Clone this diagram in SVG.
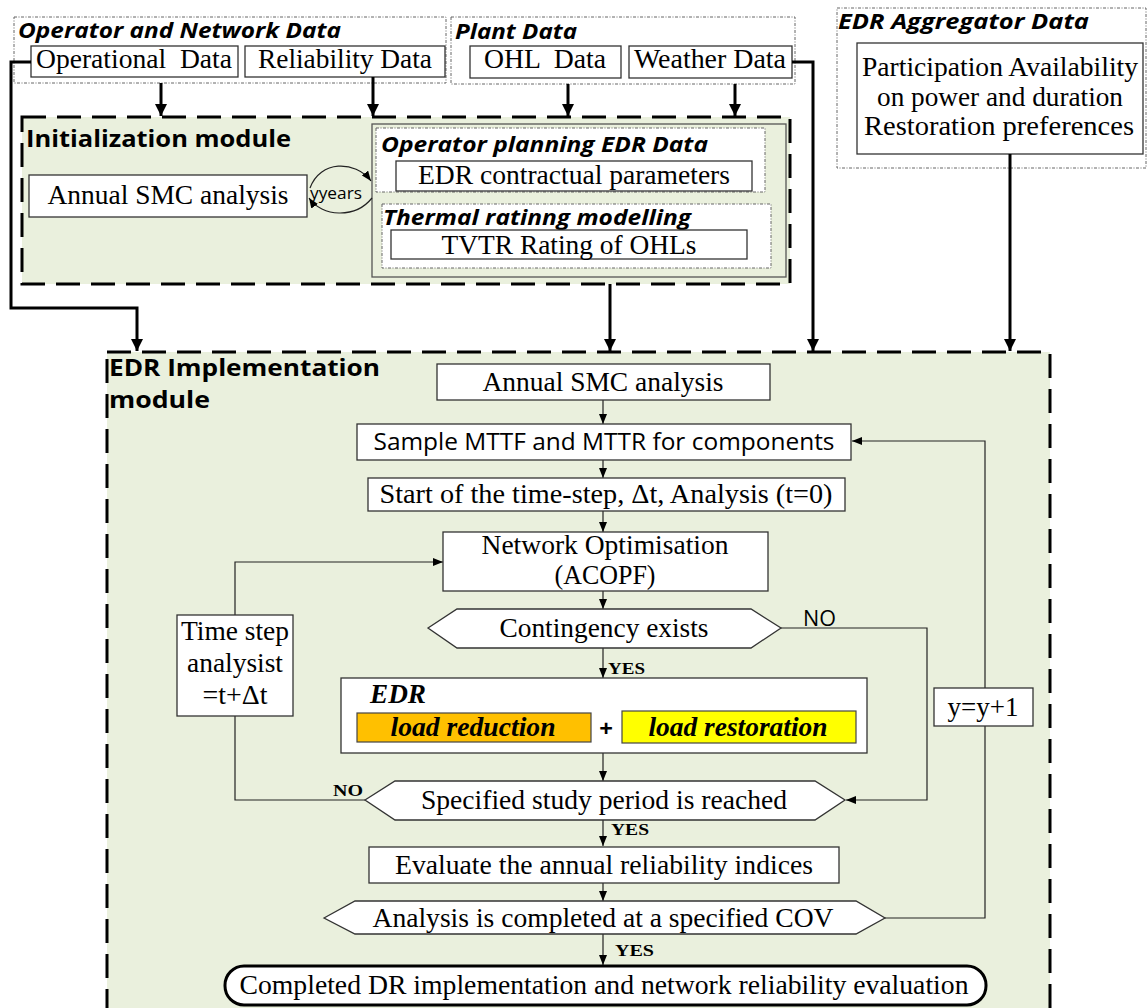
<svg xmlns="http://www.w3.org/2000/svg" width="1147" height="1008" viewBox="0 0 1147 1008">
  <style>
    .grp{fill:#fff;stroke:#666;stroke-width:1;stroke-dasharray:3 1.5 1 1.5}
    .mod{fill:#EAF0DD;stroke:#000;stroke-width:3;stroke-dasharray:24 11}
    .box{fill:#fff;stroke:#333;stroke-width:1.3}
    .ser{font-family:"Liberation Serif","Times New Roman",serif;font-size:27px;fill:#000}
    .title{font-family:"Open Sans","Liberation Sans",sans-serif;font-weight:bold;font-style:italic;font-size:22px;fill:#000}
    .modt{font-family:"Open Sans","Liberation Sans",sans-serif;font-weight:bold;font-size:24px;fill:#000}
    .sans{font-family:"Open Sans","Liberation Sans",sans-serif;fill:#000}
    .lbl{font-family:"Liberation Serif","Times New Roman",serif;font-weight:bold;font-size:17px;fill:#000}
    .thick{fill:none;stroke:#000;stroke-width:3}
    .thin{fill:none;stroke:#222;stroke-width:1.2}
    .c{text-anchor:middle}
  </style>
  <defs>
    <marker id="bigArrow" viewBox="0 0 10 10" refX="10" refY="5" markerUnits="userSpaceOnUse" markerWidth="12" markerHeight="13" orient="auto">
      <path d="M0,0 L10,5 L0,10 z" fill="#000"/>
    </marker>
    <marker id="arrow" viewBox="0 0 10 8" refX="10" refY="4" markerUnits="userSpaceOnUse" markerWidth="10" markerHeight="8" orient="auto">
      <path d="M0,0 L10,4 L0,8 z" fill="#000"/>
    </marker>
  </defs>

  <!-- input data groups -->
  <g id="operator-network-data">
    <rect class="grp" x="14" y="17" width="432" height="66"/>
    <text class="title" x="18" y="38" textLength="323" lengthAdjust="spacingAndGlyphs">Operator and Network Data</text>
    <rect class="box" x="31" y="46" width="207" height="31"/>
    <text class="ser c" x="134" y="68" textLength="196" lengthAdjust="spacingAndGlyphs" xml:space="preserve">Operational  Data</text>
    <rect class="box" x="245" y="46" width="200" height="31"/>
    <text class="ser c" x="345" y="68" textLength="174" lengthAdjust="spacingAndGlyphs">Reliability Data</text>
  </g>
  <g id="plant-data">
    <rect class="grp" x="451" y="17" width="344" height="67"/>
    <text class="title" x="455" y="39" textLength="122" lengthAdjust="spacingAndGlyphs">Plant Data</text>
    <rect class="box" x="470" y="46" width="151" height="32"/>
    <text class="ser c" x="545" y="68" textLength="122" lengthAdjust="spacingAndGlyphs" xml:space="preserve">OHL  Data</text>
    <rect class="box" x="629" y="46" width="163" height="32"/>
    <text class="ser c" x="710" y="68" textLength="152" lengthAdjust="spacingAndGlyphs">Weather Data</text>
  </g>
  <g id="edr-aggregator-data">
    <rect class="grp" x="837" y="8" width="309" height="160"/>
    <text class="title" x="838" y="29" textLength="251" lengthAdjust="spacingAndGlyphs">EDR Aggregator Data</text>
    <rect class="box" x="857" y="43" width="286" height="111"/>
    <text class="ser c" x="1000" y="76" textLength="276" lengthAdjust="spacingAndGlyphs">Participation Availability</text>
    <text class="ser c" x="1000" y="106" textLength="246" lengthAdjust="spacingAndGlyphs">on power and duration</text>
    <text class="ser c" x="999" y="135" textLength="270" lengthAdjust="spacingAndGlyphs">Restoration preferences</text>
  </g>

  <!-- initialization module -->
  <g id="initialization-module">
    <rect class="mod" x="22" y="117" width="768" height="167"/>
    <text class="modt" x="26" y="147" textLength="265" lengthAdjust="spacingAndGlyphs">Initialization module</text>
    <rect class="box" x="29" y="175" width="278" height="42"/>
    <text class="ser c" x="168" y="204" textLength="241" lengthAdjust="spacingAndGlyphs">Annual SMC analysis</text>
    <rect x="372" y="124" width="414" height="153" fill="#EAF0DD" stroke="#555" stroke-width="1.3"/>
    <rect class="grp" x="376" y="128" width="389" height="64"/>
    <text class="title" x="381" y="152" textLength="327" lengthAdjust="spacingAndGlyphs">Operator planning EDR Data</text>
    <rect class="box" x="396" y="161" width="356" height="30"/>
    <text class="ser c" x="574" y="184" textLength="312" lengthAdjust="spacingAndGlyphs">EDR contractual parameters</text>
    <rect class="grp" x="382" y="204" width="389" height="64"/>
    <text class="title" x="383" y="225" font-size="20" textLength="308" lengthAdjust="spacingAndGlyphs">Thermal ratinng modelling</text>
    <rect class="box" x="391" y="230" width="356" height="29"/>
    <text class="ser c" x="569" y="254" font-size="26" textLength="255" lengthAdjust="spacingAndGlyphs">TVTR Rating of OHLs</text>
    <text class="sans" x="310" y="199" font-size="16" textLength="52" lengthAdjust="spacingAndGlyphs">yyears</text>
  </g>

  <!-- implementation module background -->
  <g id="edr-implementation-module">
    <rect class="mod" x="107" y="352" width="943" height="700"/>
    <text class="modt" x="109" y="376" textLength="271" lengthAdjust="spacingAndGlyphs">EDR Implementation</text>
    <text class="modt" x="109" y="408" textLength="101" lengthAdjust="spacingAndGlyphs">module</text>
  </g>

  <!-- connectors -->
  <g id="connectors">
    <path class="thick" d="M31,62 H11 V308 H137 V351" marker-end="url(#bigArrow)"/>
    <path class="thick" d="M161,83 V116" marker-end="url(#bigArrow)"/>
    <path class="thick" d="M373,77 V116" marker-end="url(#bigArrow)"/>
    <path class="thick" d="M568,84 V116" marker-end="url(#bigArrow)"/>
    <path class="thick" d="M735,84 V116" marker-end="url(#bigArrow)"/>
    <path class="thick" d="M792,62 H813 V351" marker-end="url(#bigArrow)"/>
    <path class="thick" d="M610,284 V351" marker-end="url(#bigArrow)"/>
    <path class="thick" d="M1010,154 V351" marker-end="url(#bigArrow)"/>

    <path class="thin" d="M310,188 C320,160 355,160 371,181" marker-end="url(#arrow)"/>
    <path class="thin" d="M372,198 C355,219 322,217 309,198" marker-end="url(#arrow)"/>

    <path class="thin" d="M603,400 V424" marker-end="url(#arrow)"/>
    <path class="thin" d="M603,460 V478" marker-end="url(#arrow)"/>
    <path class="thin" d="M603,511 V532" marker-end="url(#arrow)"/>
    <path class="thin" d="M603,591 V609" marker-end="url(#arrow)"/>
    <path class="thin" d="M603,648 V678" marker-end="url(#arrow)"/>
    <path class="thin" d="M603,753 V781" marker-end="url(#arrow)"/>
    <path class="thin" d="M603,820 V846" marker-end="url(#arrow)"/>
    <path class="thin" d="M603,883 V901" marker-end="url(#arrow)"/>
    <path class="thin" d="M603,934 V965" marker-end="url(#arrow)"/>
    <path class="thin" d="M781,628 H927 V800 H846" marker-end="url(#arrow)"/>
    <path class="thin" d="M365,800 H235 V562 H443" marker-end="url(#arrow)"/>
    <path class="thin" d="M885,918 H985 V441 H852" marker-end="url(#arrow)"/>

    <text class="lbl" x="608" y="674" textLength="37" lengthAdjust="spacingAndGlyphs">YES</text>
    <text class="lbl" x="611" y="835" textLength="38" lengthAdjust="spacingAndGlyphs">YES</text>
    <text class="lbl" x="615" y="956" textLength="39" lengthAdjust="spacingAndGlyphs">YES</text>
    <text class="lbl" x="333" y="796" textLength="30" lengthAdjust="spacingAndGlyphs">NO</text>
    <text class="sans" x="803" y="626" font-size="21" textLength="33" lengthAdjust="spacingAndGlyphs">NO</text>
  </g>

  <!-- flowchart steps -->
  <g id="annual-smc">
    <rect class="box" x="437" y="364" width="333" height="36"/>
    <text class="ser c" x="603" y="391" textLength="241" lengthAdjust="spacingAndGlyphs">Annual SMC analysis</text>
  </g>
  <g id="sample-mttf">
    <rect class="box" x="357" y="424" width="494" height="36"/>
    <text class="sans c" x="604" y="450" font-size="23" textLength="461" lengthAdjust="spacingAndGlyphs">Sample MTTF and MTTR for components</text>
  </g>
  <g id="time-step-start">
    <rect class="box" x="368" y="478" width="477" height="33"/>
    <text class="ser c" x="606" y="503" textLength="453" lengthAdjust="spacingAndGlyphs">Start of the time-step, Δt, Analysis (t=0)</text>
  </g>
  <g id="network-optimisation">
    <rect class="box" x="443" y="532" width="325" height="59"/>
    <text class="ser c" x="605" y="554" textLength="247" lengthAdjust="spacingAndGlyphs">Network Optimisation</text>
    <text class="ser c" x="605" y="584" textLength="101" lengthAdjust="spacingAndGlyphs">(ACOPF)</text>
  </g>
  <g id="contingency-exists">
    <polygon class="box" points="428,628 457,609 751,609 781,628 751,648 457,648"/>
    <text class="ser c" x="604" y="637" textLength="209" lengthAdjust="spacingAndGlyphs">Contingency exists</text>
  </g>
  <g id="time-step-analysis">
    <rect class="box" x="177" y="615" width="116" height="101"/>
    <text class="ser c" x="235" y="640" textLength="108" lengthAdjust="spacingAndGlyphs">Time step</text>
    <text class="ser c" x="235" y="672" textLength="96" lengthAdjust="spacingAndGlyphs">analysist</text>
    <text class="ser c" x="235" y="704" textLength="65" lengthAdjust="spacingAndGlyphs">=t+Δt</text>
  </g>
  <g id="edr">
    <rect class="box" x="341" y="678" width="526" height="75"/>
    <text class="ser" x="370" y="703" font-weight="bold" font-style="italic" textLength="56" lengthAdjust="spacingAndGlyphs">EDR</text>
    <rect x="357" y="713" width="234" height="29" fill="#FFC000" stroke="#444" stroke-width="1.2"/>
    <text class="ser c" x="473" y="736" font-weight="bold" font-style="italic" textLength="165" lengthAdjust="spacingAndGlyphs">load reduction</text>
    <text class="sans c" x="606" y="737" font-size="24" font-weight="bold">+</text>
    <rect x="622" y="711" width="234" height="32" fill="#FFFF00" stroke="#444" stroke-width="1.2"/>
    <text class="ser c" x="738" y="736" font-weight="bold" font-style="italic" textLength="179" lengthAdjust="spacingAndGlyphs">load restoration</text>
  </g>
  <g id="year-increment">
    <rect class="box" x="934" y="688" width="99" height="38"/>
    <text class="ser c" x="983" y="716" textLength="71" lengthAdjust="spacingAndGlyphs">y=y+1</text>
  </g>
  <g id="study-period-reached">
    <polygon class="box" points="365,800 395,781 815,781 845,800 815,820 395,820"/>
    <text class="ser c" x="604" y="809" textLength="366" lengthAdjust="spacingAndGlyphs">Specified study period is reached</text>
  </g>
  <g id="evaluate-indices">
    <rect class="box" x="369" y="847" width="470" height="36"/>
    <text class="ser c" x="604" y="874" textLength="418" lengthAdjust="spacingAndGlyphs">Evaluate the annual reliability indices</text>
  </g>
  <g id="cov-check">
    <polygon class="box" points="324,918 355,901 856,901 885,918 856,934 355,934"/>
    <text class="ser c" x="603" y="927" textLength="461" lengthAdjust="spacingAndGlyphs">Analysis is completed at a specified COV</text>
  </g>
  <g id="completed">
    <rect x="225" y="966" width="761" height="39" rx="19" ry="19" fill="#fff" stroke="#000" stroke-width="3"/>
    <text class="ser c" x="604" y="994" textLength="729" lengthAdjust="spacingAndGlyphs">Completed DR implementation and network reliability evaluation</text>
  </g>
</svg>
